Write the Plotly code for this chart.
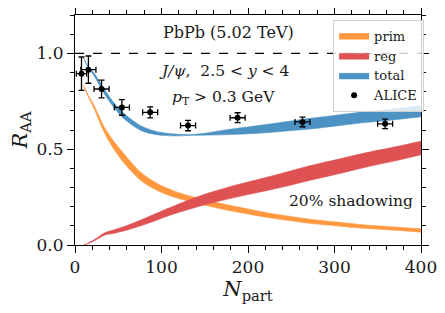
import plotly.graph_objects as go

# ---- data ----
npart = [10, 15, 22, 34, 45, 57, 76, 95, 115, 134, 150, 179, 200, 225, 250, 271, 300, 335, 370, 400]

prim_lo = [0.828, 0.776, 0.712, 0.586, 0.500, 0.426, 0.337, 0.285, 0.249, 0.226, 0.208, 0.179, 0.162, 0.142, 0.126, 0.113, 0.101, 0.087, 0.077, 0.067]
prim_hi = [0.832, 0.784, 0.728, 0.614, 0.540, 0.474, 0.379, 0.321, 0.281, 0.254, 0.236, 0.207, 0.188, 0.166, 0.149, 0.135, 0.121, 0.105, 0.094, 0.084]

reg_lo = [0.000, 0.0065, 0.021, 0.051, 0.061, 0.074, 0.100, 0.131, 0.163, 0.189, 0.210, 0.242, 0.263, 0.287, 0.313, 0.337, 0.367, 0.405, 0.439, 0.471]
reg_hi = [0.000, 0.0095, 0.027, 0.063, 0.079, 0.096, 0.130, 0.167, 0.205, 0.239, 0.265, 0.304, 0.329, 0.357, 0.387, 0.413, 0.443, 0.480, 0.512, 0.541]

tot_lo = [0.974, 0.927, 0.883, 0.788, 0.718, 0.657, 0.598, 0.575, 0.569, 0.572, 0.573, 0.576, 0.580, 0.587, 0.597, 0.605, 0.620, 0.639, 0.654, 0.669]
tot_hi = [0.976, 0.933, 0.897, 0.812, 0.742, 0.685, 0.622, 0.591, 0.579, 0.576, 0.583, 0.604, 0.616, 0.631, 0.647, 0.660, 0.676, 0.695, 0.711, 0.727]

alice_n = [7.5, 15.5, 30.7, 54.2, 86.9, 130.7, 188.0, 263.0, 358.5]
alice_r = [0.894, 0.915, 0.814, 0.718, 0.692, 0.623, 0.664, 0.642, 0.632]
alice_yerr = [0.087, 0.071, 0.046, 0.041, 0.029, 0.027, 0.026, 0.025, 0.025]
alice_xerr = [6.0, 8.7, 8.7, 8.7, 8.7, 8.7, 8.7, 8.7, 8.7]

x_ticks = [0, 100, 200, 300, 400]
y_ticks = [0.0, 0.5, 1.0]
y_ticktext = ["0.0", "0.5", "1.0"]

FONT = "DejaVu Serif"
INK = "#1a1a1a"

fig = go.Figure()

bands = [
    ("prim", prim_lo, prim_hi, "#ff983e"),
    ("reg", reg_lo, reg_hi, "#de5253"),
    ("total", tot_lo, tot_hi, "#4c92c3"),
]
for name, lo, hi, col in bands:
    fig.add_trace(go.Scatter(x=npart, y=lo, mode="lines", line=dict(width=0.6, color=col, shape="spline", smoothing=0.8),
                             showlegend=False, hoverinfo="skip"))
    fig.add_trace(go.Scatter(x=npart, y=hi, mode="lines", line=dict(width=0.6, color=col, shape="spline", smoothing=0.8),
                             fill="tonexty", fillcolor=col, name=name))

fig.add_trace(go.Scatter(
    x=alice_n, y=alice_r, mode="markers", name="ALICE",
    marker=dict(color="black", size=6),
    error_y=dict(type="data", array=alice_yerr, color="black", thickness=1.3, width=3),
    error_x=dict(type="data", array=alice_xerr, color="black", thickness=1.3, width=3),
))

fig.add_trace(go.Scatter(x=[], y=[], xaxis="x2", yaxis="y2", showlegend=False, hoverinfo="skip"))

fig.add_hline(y=1.0, line=dict(color="black", width=1.2, dash="dash"))

fig.add_annotation(x=0.445, y=0.925, xref="paper", yref="paper", text="PbPb (5.02 TeV)",
                   showarrow=False, font=dict(family=FONT, size=16, color=INK), xanchor="center", yanchor="middle")
fig.add_annotation(x=0.43, y=0.755, xref="paper", yref="paper",
                   text="<i>J/ψ</i>,  2.5 &lt; <i>y</i> &lt; 4",
                   showarrow=False, font=dict(family=FONT, size=15.5, color=INK), xanchor="center", yanchor="middle")
fig.add_annotation(x=0.43, y=0.64, xref="paper", yref="paper",
                   text="<i>p</i><sub>T</sub> &gt; 0.3 GeV",
                   showarrow=False, font=dict(family=FONT, size=15.5, color=INK), xanchor="center", yanchor="middle")
fig.add_annotation(x=0.983, y=0.193, xref="paper", yref="paper", text="20% shadowing",
                   showarrow=False, font=dict(family=FONT, size=15.5, color=INK), xanchor="right", yanchor="middle")

tick_common = dict(ticks="outside", ticklen=7, tickwidth=1, tickcolor="black",
                   showgrid=False, zeroline=False, automargin=False)

fig.update_layout(
    xaxis=dict(range=[0, 400], tickvals=x_ticks, showline=True, linecolor="black", linewidth=1, mirror=True,
               minor=dict(dtick=20, ticks="outside", ticklen=4, tickcolor="black"),
               tickfont=dict(family=FONT, size=17, color=INK),
               title=dict(text="<i>N</i><sub>part</sub>", font=dict(family=FONT, size=21, color=INK), standoff=0),
               **tick_common),
    yaxis=dict(range=[0, 1.2], tickvals=y_ticks, ticktext=y_ticktext, showline=True, linecolor="black", linewidth=1, mirror=True,
               minor=dict(dtick=0.1, ticks="outside", ticklen=4, tickcolor="black"),
               tickfont=dict(family=FONT, size=17, color=INK),
               title=dict(text="<i>R</i><sub>AA</sub>", font=dict(family=FONT, size=21, color=INK), standoff=10),
               **tick_common),
    xaxis2=dict(range=[0, 400], overlaying="x", side="top", tickvals=x_ticks, showticklabels=False,
                minor=dict(dtick=20, ticks="outside", ticklen=4, tickcolor="black"), **tick_common),
    yaxis2=dict(range=[0, 1.2], overlaying="y", side="right", tickvals=y_ticks, showticklabels=False,
                minor=dict(dtick=0.1, ticks="outside", ticklen=4, tickcolor="black"), **tick_common),
    width=437, height=305,
    margin=dict(l=67, r=24, t=7, b=68),
    plot_bgcolor="white", paper_bgcolor="white",
    font=dict(family=FONT, color=INK),
    legend=dict(x=0.746, y=0.98, xanchor="left", yanchor="top", traceorder="normal",
                font=dict(family=FONT, size=13, color=INK),
                bgcolor="rgba(255,255,255,0.8)", bordercolor="#d0d0d0", borderwidth=1,
                itemwidth=30, tracegroupgap=0),
)

fig.write_html("out.html")
